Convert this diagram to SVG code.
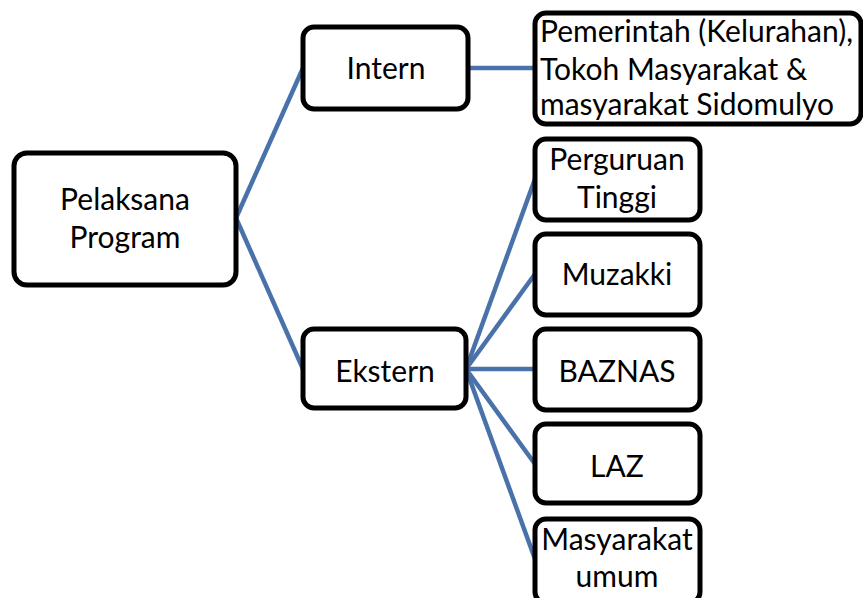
<svg xmlns="http://www.w3.org/2000/svg" width="863" height="598" viewBox="0 0 863 598">
<style>
.box{fill:#fff;stroke:#000;stroke-width:5}
.t{font-family:Lato,"Open Sans","Liberation Sans",sans-serif;font-size:30px;fill:#000;text-anchor:middle}
.tl{text-anchor:start}
.c{stroke:#4a72aa;stroke-width:4.5;fill:none}
</style>
<rect width="863" height="598" fill="#fff"/>
<g id="connectors">
<line class="c" x1="236" y1="218" x2="303" y2="68"/>
<line class="c" x1="236" y1="218" x2="303" y2="369"/>
<line class="c" x1="468" y1="68" x2="535" y2="68"/>
<line class="c" x1="466" y1="369" x2="535" y2="179"/>
<line class="c" x1="466" y1="369" x2="535" y2="274"/>
<line class="c" x1="466" y1="369" x2="535" y2="369"/>
<line class="c" x1="466" y1="369" x2="535" y2="464"/>
<line class="c" x1="466" y1="369" x2="535" y2="559"/>
</g>
<g id="pelaksana">
<rect class="box" x="14" y="153" width="222" height="132" rx="13"/>
<text class="t" x="125" y="210">Pelaksana</text>
<text class="t" x="125" y="248">Program</text>
</g>
<g id="intern">
<rect class="box" x="303" y="27" width="165" height="82" rx="11"/>
<text class="t" x="386" y="79">Intern</text>
</g>
<g id="ekstern">
<rect class="box" x="303" y="329" width="163" height="79" rx="11"/>
<text class="t" x="385" y="382">Ekstern</text>
</g>
<g id="pemerintah">
<rect class="box" x="535" y="13" width="326" height="111" rx="11"/>
<text class="t tl" x="540" y="42">Pemerintah (Kelurahan),</text>
<text class="t tl" x="540" y="80">Tokoh Masyarakat &amp;</text>
<text class="t tl" x="540" y="115">masyarakat Sidomulyo</text>
</g>
<g id="perguruan">
<rect class="box" x="535" y="139" width="165" height="81" rx="11"/>
<text class="t" x="617" y="170">Perguruan</text>
<text class="t" x="617" y="208">Tinggi</text>
</g>
<g id="muzakki">
<rect class="box" x="535" y="234" width="165" height="81" rx="11"/>
<text class="t" x="617" y="285">Muzakki</text>
</g>
<g id="baznas">
<rect class="box" x="535" y="329" width="165" height="81" rx="11"/>
<text class="t" x="617" y="382">BAZNAS</text>
</g>
<g id="laz">
<rect class="box" x="535" y="424" width="165" height="79" rx="11"/>
<text class="t" x="617" y="477">LAZ</text>
</g>
<g id="masyarakat">
<rect class="box" x="535" y="519" width="165" height="84" rx="11"/>
<text class="t" x="617" y="550">Masyarakat</text>
<text class="t" x="617" y="587">umum</text>
</g>
</svg>
